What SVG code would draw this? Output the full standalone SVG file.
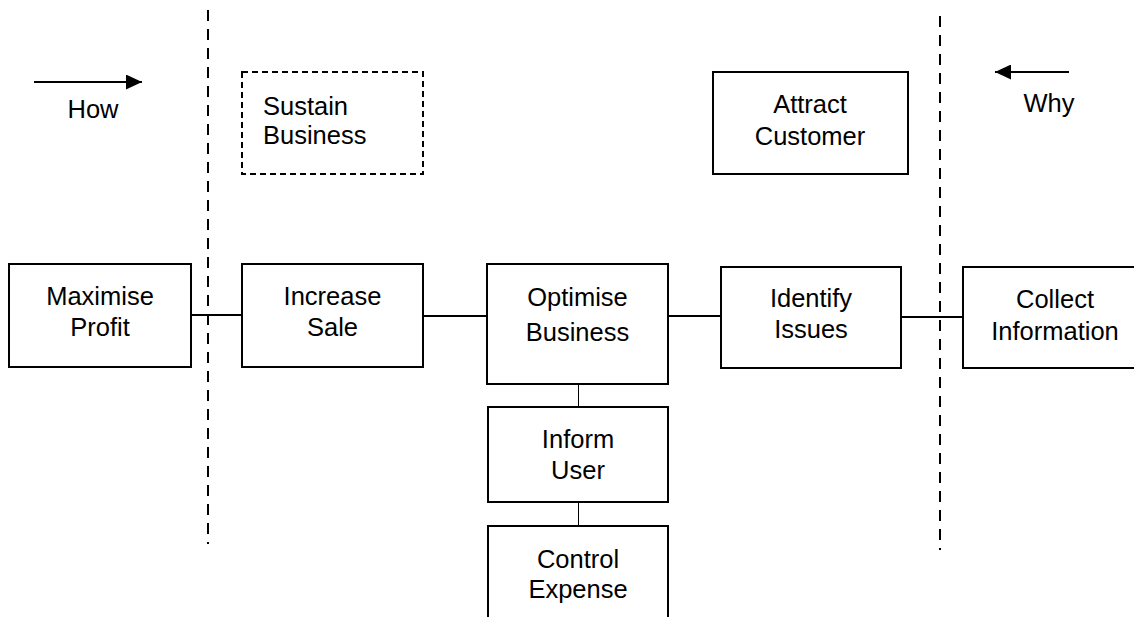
<svg xmlns="http://www.w3.org/2000/svg" width="1134" height="617" viewBox="0 0 1134 617">
  <defs>
    <style>
      .box { fill: #ffffff; stroke: #000000; stroke-width: 2; }
      .dbox { fill: #ffffff; stroke: #000000; stroke-width: 2; stroke-dasharray: 6 4; }
      .t { font-family: "Liberation Sans", Arial, sans-serif; font-size: 25.5px; fill: #000000; text-anchor: middle; }
      .tl { font-family: "Liberation Sans", Arial, sans-serif; font-size: 25.5px; fill: #000000; text-anchor: start; }
      .conn { stroke: #000000; stroke-width: 2; fill: none; }
      .thin { stroke: #000000; stroke-width: 1; fill: none; }
      .divider { stroke: #000000; stroke-width: 2; stroke-dasharray: 11 8; fill: none; }
      .arrow { stroke: #000000; stroke-width: 2; fill: none; marker-end: url(#ah); }
    </style>
    <marker id="ah" viewBox="0 0 16 15" refX="16" refY="7.5" markerWidth="16" markerHeight="15" markerUnits="userSpaceOnUse" orient="auto">
      <path d="M0,0 L16,7.5 L0,15 Z" fill="#000000"/>
    </marker>
  </defs>
  <rect width="1134" height="617" fill="#ffffff"/>

  <g id="dividers">
    <line class="divider" x1="208" y1="10" x2="208" y2="544"/>
    <line class="divider" x1="940" y1="16" x2="940" y2="550"/>
  </g>

  <g id="connectors">
    <line class="conn" x1="191" y1="315" x2="242" y2="315"/>
    <line class="conn" x1="423" y1="316" x2="487" y2="316"/>
    <line class="conn" x1="668" y1="316" x2="721" y2="316"/>
    <line class="conn" x1="901" y1="317" x2="963" y2="317"/>
    <line class="thin" x1="578.5" y1="384" x2="578.5" y2="407"/>
    <line class="thin" x1="578.5" y1="502" x2="578.5" y2="526"/>
  </g>

  <g id="how">
    <line class="arrow" x1="34" y1="82" x2="142" y2="82"/>
    <text class="t" x="93" y="118">How</text>
  </g>
  <g id="why">
    <line class="arrow" x1="1069" y1="72" x2="995" y2="72"/>
    <text class="t" x="1049" y="112">Why</text>
  </g>

  <g id="sustain-business">
    <rect class="dbox" x="242" y="72" width="181" height="102"/>
    <text class="tl" x="263" y="115">Sustain</text>
    <text class="tl" x="263" y="144">Business</text>
  </g>
  <g id="attract-customer">
    <rect class="box" x="713" y="72" width="195" height="102"/>
    <text class="t" x="810" y="113">Attract</text>
    <text class="t" x="810" y="145">Customer</text>
  </g>

  <g id="maximise-profit">
    <rect class="box" x="9" y="264" width="182" height="103"/>
    <text class="t" x="100" y="305">Maximise</text>
    <text class="t" x="100" y="336">Profit</text>
  </g>
  <g id="increase-sale">
    <rect class="box" x="242" y="264" width="181" height="103"/>
    <text class="t" x="332.5" y="305">Increase</text>
    <text class="t" x="332.5" y="336">Sale</text>
  </g>
  <g id="optimise-business">
    <rect class="box" x="487" y="264" width="181" height="120"/>
    <text class="t" x="577.5" y="306">Optimise</text>
    <text class="t" x="577.5" y="341">Business</text>
  </g>
  <g id="identify-issues">
    <rect class="box" x="721" y="267" width="180" height="101"/>
    <text class="t" x="811" y="307">Identify</text>
    <text class="t" x="811" y="338">Issues</text>
  </g>
  <g id="collect-information">
    <rect class="box" x="963" y="267" width="184" height="101"/>
    <text class="t" x="1055" y="308">Collect</text>
    <text class="t" x="1055" y="340">Information</text>
  </g>
  <g id="inform-user">
    <rect class="box" x="488" y="407" width="180" height="95"/>
    <text class="t" x="578" y="448">Inform</text>
    <text class="t" x="578" y="479">User</text>
  </g>
  <g id="control-expense">
    <rect class="box" x="488" y="526" width="180" height="100"/>
    <text class="t" x="578" y="568">Control</text>
    <text class="t" x="578" y="598">Expense</text>
  </g>
</svg>
